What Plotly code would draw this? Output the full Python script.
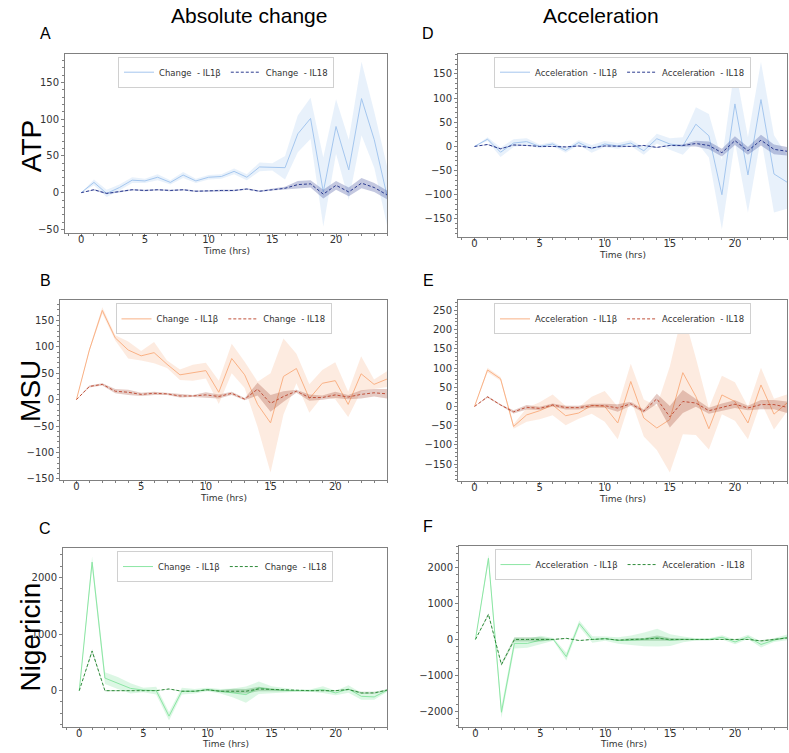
import numpy as np
import plotly.graph_objects as go

# time axis (hrs)
hours = list(range(25))

# ATP
atp_change_il1b = [0, 14, -1, 7, 17, 16, 21, 14, 24, 16, 21, 22, 29, 21, 35, 35, 34, 80, 101, 1, 90, 31, 128, 72, -4]
atp_change_il1b_err = [0, 4, 5, 4, 4, 3, 4, 3, 4, 3, 3, 3, 4, 4, 6, 5, 16, 25, 28, 47, 37, 41, 50, 38, 40]
atp_change_il18 = [0, 4, -1, 2, 4, 3, 4, 3, 4, 2, 3, 3, 3, 5, 2, 4, 6, 11, 12, -2, 10, 1, 13, 7, -3]
atp_change_il18_err = [0, 1, 1, 1, 1, 1, 1, 1, 1, 1, 1, 1, 1, 1, 1, 1, 2, 5, 5, 6, 6, 6, 7, 6, 6]
atp_accel_il1b = [0, 15, -12, 7, 10, 0, 5, -8, 8, -5, 5, 1, 7, -9, 16, 5, 1, 46, 22, -100, 88, -59, 97, -57, -74]
atp_accel_il1b_err = [0, 4, 10, 8, 7, 4, 4, 5, 5, 8, 6, 6, 6, 8, 10, 12, 18, 35, 45, 72, 78, 78, 78, 80, 55]
atp_accel_il18 = [0, 4, -5, 3, 2, 0, 0, -1, 1, -3, 1, 0, 0, 2, -2, 2, 2, 6, 2, -13, 12, -9, 13, -6, -10]
atp_accel_il18_err = [0, 1, 1, 1, 1, 1, 1, 1, 1, 1, 1, 1, 1, 1, 1, 1, 2, 6, 8, 8, 9, 8, 11, 10, 9]

# MSU
msu_change_il1b = [0, 94, 169, 117, 94, 83, 89, 67, 47, 51, 55, 14, 78, 47, -9, -44, 44, 59, 2, 31, 36, -9, 49, 29, 39]
msu_change_il1b_err = [0, 3, 6, 5, 16, 9, 20, 7, 10, 15, 15, 22, 28, 25, 43, 94, 72, 28, 27, 25, 35, 24, 33, 9, 15]
msu_change_il18 = [0, 25, 29, 16, 14, 10, 12, 11, 7, 7, 9, 6, 12, 1, 20, -7, 6, 16, 4, 4, 9, 5, 10, 13, 11]
msu_change_il18_err = [0, 2, 2, 4, 5, 3, 3, 2, 3, 2, 5, 4, 3, 2, 12, 16, 10, 3, 6, 4, 6, 4, 8, 7, 9]
msu_accel_il1b = [0, 95, 72, -52, -22, -11, 4, -24, -17, 3, 0, -43, 65, -30, -56, -34, 88, 26, -58, 30, 13, -43, 56, -20, 9]
msu_accel_il1b_err = [0, 6, 5, 6, 18, 22, 27, 25, 15, 22, 40, 42, 46, 48, 57, 138, 160, 100, 54, 50, 50, 42, 45, 40, 22]
msu_accel_il18 = [0, 25, 4, -14, -2, -5, 4, -3, -3, 2, 2, -4, 7, -12, 20, -27, 13, 9, -11, -2, 6, -4, 5, 5, -2]
msu_accel_il18_err = [0, 2, 2, 4, 6, 4, 4, 5, 5, 5, 5, 10, 5, 4, 13, 28, 30, 10, 8, 10, 10, 6, 12, 12, 15]

# Nigericin
nig_change_il1b = [0, 2270, 222, 135, 40, 10, 0, -450, -10, -10, 20, -10, -40, -70, 50, 20, 5, 0, 0, 20, -40, 30, -100, -110, 5]
nig_change_il1b_err = [0, 100, 105, 105, 90, 40, 70, 75, 60, 40, 30, 40, 80, 145, 110, 60, 40, 20, 20, 60, 40, 65, 60, 50, 30]
nig_change_il18 = [0, 700, 0, 0, 5, 5, 0, 30, -10, -10, 15, -10, -5, -10, 30, 20, 10, 0, 0, 0, 0, 20, -40, -40, 10]
nig_change_il18_err = [0, 30, 10, 10, 10, 10, 5, 5, 10, 10, 10, 20, 40, 40, 40, 20, 10, 5, 5, 10, 10, 10, 20, 20, 10]
nig_accel_il1b = [0, 2260, -2030, -110, -110, -20, 0, -480, 440, 0, 20, -30, -20, 0, 50, -20, 0, 0, 0, 60, -70, 70, -140, -20, 60]
nig_accel_il1b_err = [0, 110, 160, 140, 125, 125, 40, 110, 90, 90, 60, 90, 130, 190, 250, 165, 80, 30, 30, 60, 65, 60, 85, 50, 80]
nig_accel_il18 = [0, 700, -700, 0, 0, 0, 0, 30, -30, 0, 20, -20, 0, 0, 30, 0, 0, 0, 0, 0, 0, 0, -40, 0, 40]
nig_accel_il18_err = [0, 30, 40, 60, 60, 60, 10, 10, 10, 10, 10, 20, 40, 40, 80, 40, 20, 10, 10, 10, 10, 10, 20, 20, 20]

col_titles = ["Absolute change", "Acceleration"]
row_titles = ["ATP", "MSU", "Nigericin"]
x_title = "Time (hrs)"

W, H = 789, 753
TICK_FONT = "DejaVu Sans"
TITLE_FONT = "Liberation Sans, Arial"

# (stimulus colours) light line, light band, dark line, dark band
colors = {
    "ATP": ("#a4c6ee", "rgba(164,198,238,0.25)", "#2a3a8f", "rgba(42,58,143,0.28)"),
    "MSU": ("#f9b185", "rgba(249,177,133,0.25)", "#c0503a", "rgba(160,70,45,0.28)"),
    "Nigericin": ("#8ce6a4", "rgba(140,230,164,0.3)", "#2e8b3a", "rgba(46,139,58,0.28)"),
}

# panel boxes in pixels: x0, x1, ytop, ybottom
panels = [
    dict(letter="A", row="ATP", kind="Change", box=(65, 387, 54, 234), yr=[-54.5, 189], dt=50,
         d1=(atp_change_il1b, atp_change_il1b_err), d2=(atp_change_il18, atp_change_il18_err)),
    dict(letter="B", row="MSU", kind="Change", box=(60, 387, 302, 483), yr=[-153, 188], dt=50,
         d1=(msu_change_il1b, msu_change_il1b_err), d2=(msu_change_il18, msu_change_il18_err)),
    dict(letter="C", row="Nigericin", kind="Change", box=(63, 387, 551, 731), yr=[-644, 2519], dt=1000,
         d1=(nig_change_il1b, nig_change_il1b_err), d2=(nig_change_il18, nig_change_il18_err)),
    dict(letter="D", row="ATP", kind="Acceleration", box=(458, 787, 54, 238), yr=[-187, 192], dt=50,
         d1=(atp_accel_il1b, atp_accel_il1b_err), d2=(atp_accel_il18, atp_accel_il18_err)),
    dict(letter="E", row="MSU", kind="Acceleration", box=(458, 787, 302, 484), yr=[-195, 276], dt=50,
         d1=(msu_accel_il1b, msu_accel_il1b_err), d2=(msu_accel_il18, msu_accel_il18_err)),
    dict(letter="F", row="Nigericin", kind="Acceleration", box=(459, 787, 549, 731), yr=[-2444, 2602], dt=1000,
         d1=(nig_accel_il1b, nig_accel_il1b_err), d2=(nig_accel_il18, nig_accel_il18_err)),
]


def px_x(v):
    return v / W


def px_y(v):
    return 1 - v / H


fig = go.Figure()
layout = dict(width=W, height=H, margin=dict(l=0, r=0, t=0, b=0),
              paper_bgcolor="white", plot_bgcolor="white",
              font=dict(family=TICK_FONT, color="#333333"))
annotations = []
x = np.array(hours)

for i, p in enumerate(panels):
    n = i + 1
    sfx = "" if n == 1 else str(n)
    x0, x1, yt, yb = p["box"]
    light, light_band, dark, dark_band = colors[p["row"]]
    leg = "legend" if n == 1 else f"legend{n}"

    for (mean, err), lc, bc, dash, name in [
        (p["d1"], light, light_band, "solid", f"{p['kind']}\u00a0 - IL1β"),
        (p["d2"], dark, dark_band, "3px,2px", f"{p['kind']}\u00a0 - IL18"),
    ]:
        mean = np.array(mean, dtype=float)
        err = np.array(err, dtype=float)
        fig.add_trace(go.Scatter(
            x=np.concatenate([x, x[::-1]]),
            y=np.concatenate([mean + err, (mean - err)[::-1]]),
            fill="toself", fillcolor=bc, line=dict(width=0), mode="lines",
            hoverinfo="skip", showlegend=False, xaxis=f"x{sfx}", yaxis=f"y{sfx}",
        ))
        fig.add_trace(go.Scatter(
            x=x, y=mean, mode="lines", name=name,
            line=dict(color=lc, width=1, dash=dash),
            xaxis=f"x{sfx}", yaxis=f"y{sfx}", legend=leg,
        ))

    axis_common = dict(showline=True, linecolor="#808080", linewidth=1, mirror=True,
                       ticks="outside", ticklen=3, tickcolor="#808080",
                       tickfont=dict(size=10, color="#333333", family=TICK_FONT),
                       showgrid=False, zeroline=False)
    layout[f"xaxis{sfx}"] = dict(
        axis_common, domain=[px_x(x0), px_x(x1)], anchor=f"y{sfx}", range=[-1.27, 24],
        tickmode="linear", tick0=0, dtick=5, ticklabelstandoff=-6,
        minor=dict(ticks="outside", ticklen=2, dtick=1, tickcolor="#808080"),
    )
    layout[f"yaxis{sfx}"] = dict(
        axis_common, domain=[px_y(yb), px_y(yt)], anchor=f"x{sfx}", range=p["yr"],
        tickmode="linear", tick0=0, dtick=p["dt"],
        minor=dict(ticks="outside", ticklen=2, dtick=p["dt"] / 5, tickcolor="#808080"),
    )
    layout[leg] = dict(
        orientation="h", x=px_x((x0 + x1) / 2), xanchor="center",
        y=px_y(yt + 3), yanchor="top", bgcolor="white",
        bordercolor="#d0d0d0", borderwidth=1,
        font=dict(size=8.5, color="#333333", family=TICK_FONT),
        itemwidth=30, tracegroupgap=0,
    )
    # x-axis title, placed tight under the tick labels
    annotations.append(dict(text=x_title, x=px_x((x0 + x1) / 2), y=px_y(yb + (17 if yb > 700 else 18)),
                            xref="paper", yref="paper", xanchor="center", yanchor="middle",
                            showarrow=False, font=dict(size=9, color="#333333", family=TICK_FONT)))
    # panel letter
    annotations.append(dict(text=p["letter"], x=px_x(45 if x0 < 400 else 428),
                            y=px_y(yt - 20), xref="paper", yref="paper",
                            xanchor="center", yanchor="middle", showarrow=False,
                            font=dict(size=16, color="black", family=TITLE_FONT)))

# column titles
for t, cx in zip(col_titles, [249, 601]):
    annotations.append(dict(text=t, x=px_x(cx), y=px_y(16), xref="paper", yref="paper",
                            xanchor="center", yanchor="middle", showarrow=False,
                            font=dict(size=21, color="black", family=TITLE_FONT)))
# row titles
for t, cy in zip(row_titles, [147, 393, 641]):
    annotations.append(dict(text=t, x=px_x(31), y=px_y(cy), xref="paper", yref="paper",
                            xanchor="center", yanchor="middle", textangle=-90, showarrow=False,
                            font=dict(size=28, color="black", family=TITLE_FONT)))

layout["annotations"] = annotations
fig.update_layout(**layout)

fig.write_html("out.html", config={"displayModeBar": False},
               post_script="document.body.style.margin='0';")
